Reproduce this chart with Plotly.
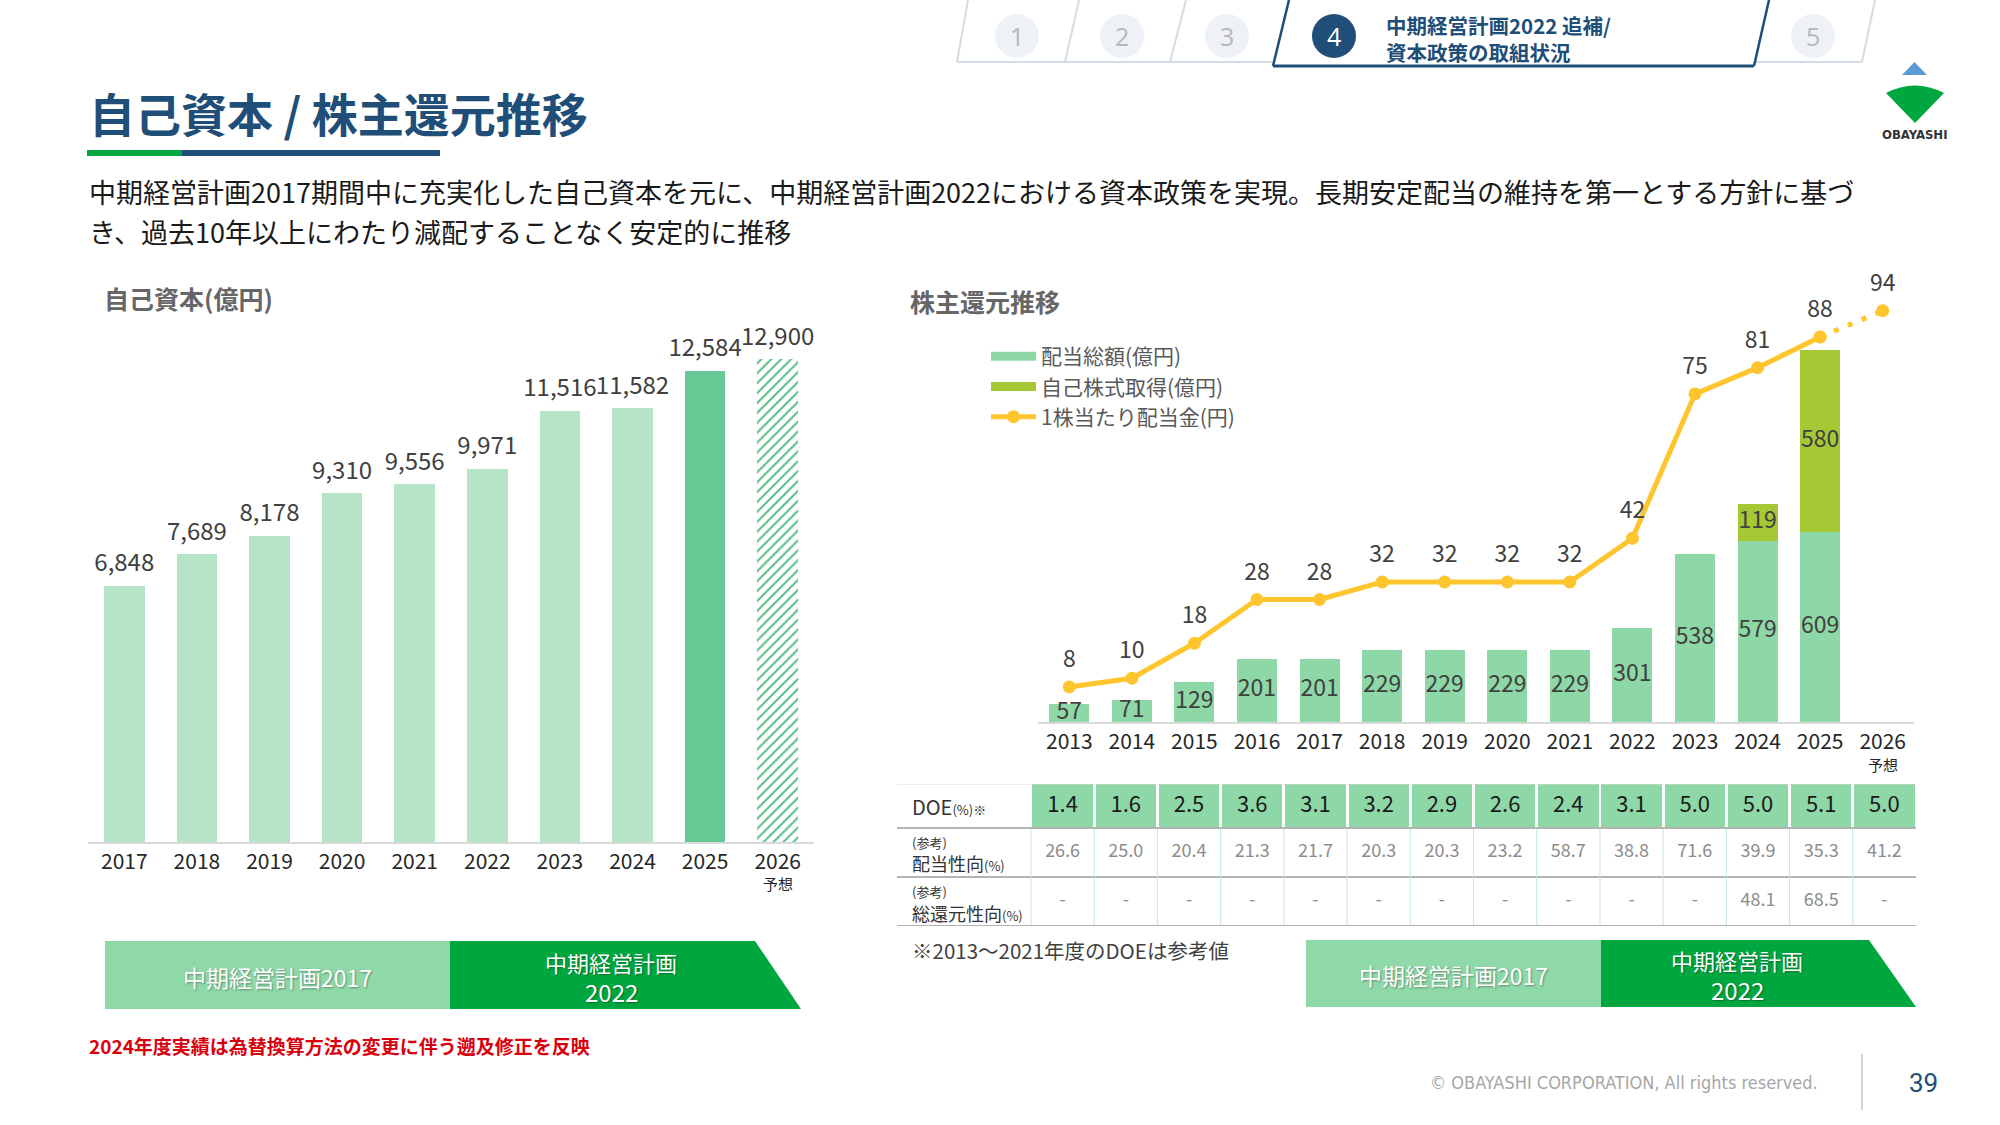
import plotly.graph_objects as go

W, H = 2000, 1125


def px(x):
    return x / W


def py(y):
    return 1 - y / H


FONT = "Noto Sans CJK JP, Noto Sans, sans-serif"
BLUE = "#1f4e79"

# ---------------- data ----------------
equity_years = [2017, 2018, 2019, 2020, 2021, 2022, 2023, 2024, 2025, 2026]
equity_values = [6848, 7689, 8178, 9310, 9556, 9971, 11516, 11582, 12584, 12900]
equity_latest_year = 2025
forecast_year = 2026

sr_years = [2013, 2014, 2015, 2016, 2017, 2018, 2019, 2020, 2021, 2022, 2023, 2024, 2025, 2026]
dividends = [57, 71, 129, 201, 201, 229, 229, 229, 229, 301, 538, 579, 609, None]
buybacks = [None, None, None, None, None, None, None, None, None, None, None, 119, 580, None]
dps = [8, 10, 18, 28, 28, 32, 32, 32, 32, 42, 75, 81, 88, 94]
doe = [1.4, 1.6, 2.5, 3.6, 3.1, 3.2, 2.9, 2.6, 2.4, 3.1, 5.0, 5.0, 5.1, 5.0]
payout = [26.6, 25.0, 20.4, 21.3, 21.7, 20.3, 20.3, 23.2, 58.7, 38.8, 71.6, 39.9, 35.3, 41.2]
total_return = [None, None, None, None, None, None, None, None, None, None, None, 48.1, 68.5, None]

# ---------------- styles ----------------
C_LIGHT = "#b5e5c6"
C_LATEST = "#66c995"
C_HATCH = "#5cc08a"
C_DIV = "#8ed8a7"
C_BUY = "#a6c834"
C_LINE = "#fec52e"
C_TEXT = "#404040"

fig = go.Figure()

# ---------------- left: equity ----------------
eq_colors = [C_LATEST if y == equity_latest_year else (C_HATCH if y == forecast_year else C_LIGHT)
             for y in equity_years]
eq_shapes = ["/" if y == forecast_year else "" for y in equity_years]
fig.add_trace(go.Bar(
    x=equity_years, y=equity_values, width=0.56, xaxis="x", yaxis="y",
    marker=dict(color=eq_colors, line=dict(width=0),
                pattern=dict(shape=eq_shapes, fillmode="replace", fgcolor=C_HATCH,
                             bgcolor="white", size=7, solidity=0.3)),
    showlegend=False, hoverinfo="skip"))
fig.add_trace(go.Scatter(
    x=equity_years, y=equity_values, xaxis="x", yaxis="y", mode="markers+text",
    marker=dict(size=12, color="rgba(0,0,0,0)"),
    text=[f"{v:,}" for v in equity_values], textposition="top center",
    textfont=dict(size=24, color=C_TEXT), cliponaxis=False,
    showlegend=False, hoverinfo="skip"))

# ---------------- right: shareholder returns ----------------
fig.add_trace(go.Bar(
    x=sr_years, y=dividends, width=0.64, xaxis="x2", yaxis="y2",
    marker=dict(color=C_DIV, line=dict(width=0)), showlegend=False, hoverinfo="skip"))
fig.add_trace(go.Bar(
    x=sr_years, y=buybacks, width=0.64, xaxis="x2", yaxis="y2",
    marker=dict(color=C_BUY, line=dict(width=0)), showlegend=False, hoverinfo="skip"))

# bar value labels (centred in segments)
div_x = [y for y, v in zip(sr_years, dividends) if v is not None]
div_v = [v for v in dividends if v is not None]
fig.add_trace(go.Scatter(
    x=div_x, y=[v / 2 for v in div_v], xaxis="x2", yaxis="y2", mode="text",
    text=[str(v) for v in div_v], textposition="middle center",
    textfont=dict(size=23, color=C_TEXT), cliponaxis=False,
    showlegend=False, hoverinfo="skip"))
bb_x = [y for y, b in zip(sr_years, buybacks) if b is not None]
bb_mid = [d + b / 2 for d, b in zip(dividends, buybacks) if b is not None]
bb_v = [b for b in buybacks if b is not None]
fig.add_trace(go.Scatter(
    x=bb_x, y=bb_mid, xaxis="x2", yaxis="y2", mode="text",
    text=[str(v) for v in bb_v], textposition="middle center",
    textfont=dict(size=23, color=C_TEXT), cliponaxis=False,
    showlegend=False, hoverinfo="skip"))

# legend dummies
fig.add_trace(go.Scatter(x=[None], y=[None], xaxis="x2", yaxis="y2", mode="lines",
                         line=dict(color=C_DIV, width=9), name="配当総額(億円)", legendrank=1))
fig.add_trace(go.Scatter(x=[None], y=[None], xaxis="x2", yaxis="y2", mode="lines",
                         line=dict(color=C_BUY, width=9), name="自己株式取得(億円)", legendrank=2))

act_idx = [i for i, y in enumerate(sr_years) if y != forecast_year]
fc_idx = [act_idx[-1]] + [i for i, y in enumerate(sr_years) if y == forecast_year]
fig.add_trace(go.Scatter(
    x=[sr_years[i] for i in fc_idx], y=[dps[i] for i in fc_idx], xaxis="x2", yaxis="y3",
    mode="lines+markers", line=dict(color=C_LINE, width=5, dash="5px,10px"),
    marker=dict(size=13, color=C_LINE), showlegend=False, hoverinfo="skip", cliponaxis=False))
fig.add_trace(go.Scatter(
    x=[sr_years[i] for i in act_idx], y=[dps[i] for i in act_idx], xaxis="x2", yaxis="y3",
    mode="lines+markers", line=dict(color=C_LINE, width=5),
    marker=dict(size=13, color=C_LINE), name="1株当たり配当金(円)", legendrank=3,
    hoverinfo="skip", cliponaxis=False))
fig.add_trace(go.Scatter(
    x=sr_years, y=dps, xaxis="x2", yaxis="y3", mode="markers+text",
    marker=dict(size=21, color="rgba(0,0,0,0)"),
    text=[str(v) for v in dps], textposition="top center",
    textfont=dict(size=23, color=C_TEXT), cliponaxis=False,
    showlegend=False, hoverinfo="skip"))

# ---------------- table ----------------
ROW_EDGES = [0, 44, 93, 142]
fig.add_trace(go.Bar(
    x=sr_years, y=[ROW_EDGES[1]] * len(sr_years), base=0, width=0.955,
    xaxis="x5", yaxis="y5", marker=dict(color=C_DIV, line=dict(width=0)),
    showlegend=False, hoverinfo="skip"))
fig.add_trace(go.Scatter(
    x=sr_years, y=[(ROW_EDGES[0] + ROW_EDGES[1]) / 2] * len(sr_years), xaxis="x5", yaxis="y5",
    mode="text", text=[f"{v:.1f}" for v in doe], textposition="middle center",
    textfont=dict(size=22, color="#1a1a1a"), showlegend=False, hoverinfo="skip", cliponaxis=False))
fig.add_trace(go.Scatter(
    x=sr_years, y=[(ROW_EDGES[1] + ROW_EDGES[2]) / 2] * len(sr_years), xaxis="x5", yaxis="y5",
    mode="text", text=[f"{v:.1f}" for v in payout], textposition="middle center",
    textfont=dict(size=18, color="#8c8c8c"), showlegend=False, hoverinfo="skip", cliponaxis=False))
fig.add_trace(go.Scatter(
    x=sr_years, y=[(ROW_EDGES[2] + ROW_EDGES[3]) / 2] * len(sr_years), xaxis="x5", yaxis="y5",
    mode="text", text=["-" if v is None else f"{v:.1f}" for v in total_return],
    textposition="middle center",
    textfont=dict(size=18, color="#8c8c8c"), showlegend=False, hoverinfo="skip", cliponaxis=False))

shapes = []
annos = []


def line(x0, y0, x1, y1, color, width):
    shapes.append(dict(type="line", xref="paper", yref="paper", x0=px(x0), y0=py(y0),
                       x1=px(x1), y1=py(y1), line=dict(color=color, width=width), layer="below"))


def poly(pts, color):
    d = "M" + " L".join(f"{px(x)},{py(y)}" for x, y in pts) + " Z"
    shapes.append(dict(type="path", xref="paper", yref="paper", path=d,
                       fillcolor=color, line=dict(width=0), layer="below"))


def text(x, y, s, size, color, anchor="left", weight="normal", family=FONT, shadow=None):
    f = dict(size=size, color=color, family=family, weight=weight)
    if shadow:
        f["shadow"] = shadow
    annos.append(dict(xref="paper", yref="paper", x=px(x), y=py(y), text=s, showarrow=False,
                      xanchor=anchor, yanchor="middle", font=f, align=anchor))


# table lines
for k, e in enumerate(ROW_EDGES):
    shapes.append(dict(type="line", xref="paper", yref="y5", x0=px(897), x1=px(1916), y0=e, y1=e,
                       line=dict(color="#d9d9d9" if k == 0 else "#b3b3b3", width=1 if k == 0 else 2)))
for yv in sr_years:
    shapes.append(dict(type="line", xref="x5", yref="y5", x0=yv - 0.5, x1=yv - 0.5,
                       y0=ROW_EDGES[1] + 1, y1=ROW_EDGES[3] - 1,
                       line=dict(color="#c4ead1", width=1)))


def row_label(yv, s, size):
    annos.append(dict(xref="paper", yref="y5", x=px(910), y=yv, text=s, showarrow=False,
                      xanchor="left", yanchor="middle",
                      font=dict(size=size, color="#333333", family=FONT)))


row_label((ROW_EDGES[0] + ROW_EDGES[1]) / 2, "DOE<span style='font-size:13px'>(%)※</span>", 20)
row_label(58, "(参考)", 13)
row_label(79, "配当性向<span style='font-size:13px'>(%)</span>", 18)
row_label(107, "(参考)", 13)
row_label(129, "総還元性向<span style='font-size:13px'>(%)</span>", 18)

# 予想 under forecast ticks
annos.append(dict(xref="x", yref="paper", x=forecast_year, y=py(883), text="予想", showarrow=False,
                  yanchor="middle", font=dict(size=15, color="#262626", family=FONT)))
annos.append(dict(xref="x2", yref="paper", x=forecast_year, y=py(764), text="予想", showarrow=False,
                  yanchor="middle", font=dict(size=15, color="#262626", family=FONT)))

# ---------------- page decorations ----------------
# nav tabs
GR = "#d3dbe5"
line(957, 62, 968, 0, GR, 2)
line(1065, 62, 1079, 0, GR, 2)
line(1170, 62, 1186, 0, GR, 2)
line(957, 62, 1273, 62, GR, 2)
line(1754, 62, 1862, 62, GR, 2)
line(1862, 62, 1875, 0, GR, 2)
line(1273, 66, 1289, 0, BLUE, 2.5)
line(1273, 66, 1754, 66, BLUE, 3)
line(1754, 66, 1769, 0, BLUE, 2.5)
for cx, num, act in [(1017, "1", False), (1122, "2", False), (1227, "3", False),
                     (1334, "4", True), (1813, "5", False)]:
    shapes.append(dict(type="circle", xref="paper", yref="paper", x0=px(cx - 22), x1=px(cx + 22),
                       y0=py(36 + 22), y1=py(36 - 22), fillcolor=BLUE if act else "#eef1f5",
                       line=dict(width=0), layer="below"))
    text(cx, 36, num, 25, "white" if act else "#b8b8b8", anchor="center",
         family="Open Sans, Roboto, sans-serif")
text(1384, 38, "中期経営計画2022 追補/<br>資本政策の取組状況", 20.5, BLUE, weight="bold")

# logo
poly([(1902, 75), (1914.5, 62), (1927, 75)], "#5b9bd5")
shapes.append(dict(type="path", xref="paper", yref="paper",
                   path=f"M{px(1886)},{py(93)} Q{px(1915)},{py(78)} {px(1944)},{py(93)} "
                        f"L{px(1915)},{py(123)} Z",
                   fillcolor="#00a73f", line=dict(width=0), layer="below"))
text(1914.5, 134, "OBAYASHI", 13, "#333333", anchor="center", weight="bold",
     family="Liberation Sans Narrow, DejaVu Sans Condensed, sans-serif")

# title
text(87, 112, "自己資本 / 株主還元推移", 46, BLUE, weight="bold")
shapes.append(dict(type="rect", xref="paper", yref="paper", x0=px(87), x1=px(182), y0=py(156), y1=py(150),
                   fillcolor="#00a73f", line=dict(width=0), layer="below"))
shapes.append(dict(type="rect", xref="paper", yref="paper", x0=px(182), x1=px(440), y0=py(156), y1=py(150),
                   fillcolor=BLUE, line=dict(width=0), layer="below"))
text(87, 191, "中期経営計画2017期間中に充実化した自己資本を元に、中期経営計画2022における資本政策を実現。"
              "長期安定配当の維持を第一とする方針に基づ", 27, "#1a1a1a")
text(87, 231, "き、過去10年以上にわたり減配することなく安定的に推移", 27, "#1a1a1a")

# chart titles
text(102, 298, "自己資本(億円)", 25, "#666666", weight="bold")
text(908, 301, "株主還元推移", 25, "#666666", weight="bold")

# banners
SH = "1px 1px 2px rgba(0,0,0,0.35)"
poly([(105, 941), (450, 941), (450, 1009), (105, 1009)], "#8fd8a8")
poly([(450, 941), (755, 941), (801, 1009), (450, 1009)], "#00a73f")
text(277, 977, "中期経営計画2017", 23, "white", anchor="center", shadow=SH)
text(611, 962, "中期経営計画", 22, "white", anchor="center", shadow=SH)
text(611, 991, "2022", 24, "white", anchor="center", shadow=SH)
poly([(1306, 940), (1601, 940), (1601, 1007), (1306, 1007)], "#8fd8a8")
poly([(1601, 940), (1869, 940), (1916, 1007), (1601, 1007)], "#00a73f")
text(1453, 975, "中期経営計画2017", 23, "white", anchor="center", shadow=SH)
text(1737, 960, "中期経営計画", 22, "white", anchor="center", shadow=SH)
text(1737, 989, "2022", 24, "white", anchor="center", shadow=SH)

# notes
text(87, 1045, "2024年度実績は為替換算方法の変更に伴う遡及修正を反映", 19, "#d9000d", weight="bold")
text(910, 950, "※2013～2021年度のDOEは参考値", 20.5, "#404040")

# footer
text(1820, 1082, "© OBAYASHI CORPORATION, All rights reserved.", 18, "#a6a6a6", anchor="right",
     family="Liberation Sans Narrow, DejaVu Sans Condensed, sans-serif")
line(1862, 1054, 1862, 1110, "#c8c8c8", 1.5)
text(1923, 1083, "39", 26, BLUE, anchor="center", family="Roboto, sans-serif")

# ---------------- layout ----------------
L_BASE, L_TOP = 842, 300
L_SCALE = 0.03744
R_BASE, R_TOP = 722, 250
R_SCALE_BAR = 0.3125
R_SCALE_LINE = 4.375

tickfont = dict(size=21, color="#262626", family=FONT)
fig.update_layout(
    width=W, height=H, margin=dict(l=0, r=0, t=0, b=0),
    paper_bgcolor="white", plot_bgcolor="rgba(0,0,0,0)",
    font=dict(family=FONT), barmode="stack", hovermode=False,
    xaxis=dict(domain=[px(88), px(814)], range=[2016.5, 2026.5], anchor="y",
               tickvals=equity_years, ticktext=[str(y) for y in equity_years],
               showline=True, linecolor="#d9d9d9", linewidth=2, showgrid=False, zeroline=False,
               ticks="", tickfont=tickfont, fixedrange=True),
    yaxis=dict(domain=[py(L_BASE), py(L_TOP)], range=[0, (L_BASE - L_TOP) / L_SCALE],
               visible=False, anchor="x", fixedrange=True),
    xaxis2=dict(domain=[px(1038), px(1914)], range=[2012.5, 2026.5], anchor="y2",
                tickvals=sr_years, ticktext=[str(y) for y in sr_years],
                showline=True, linecolor="#d9d9d9", linewidth=2, showgrid=False, zeroline=False,
                ticks="", tickfont=tickfont, fixedrange=True),
    yaxis2=dict(domain=[py(R_BASE), py(R_TOP)], range=[0, (R_BASE - R_TOP) / R_SCALE_BAR],
                visible=False, anchor="x2", fixedrange=True),
    yaxis3=dict(overlaying="y2", range=[0, (R_BASE - R_TOP) / R_SCALE_LINE],
                visible=False, anchor="x2", fixedrange=True),
    xaxis5=dict(domain=[px(897), px(1916)], range=[2010.38, 2026.5], anchor="y5", visible=False,
                fixedrange=True),
    yaxis5=dict(domain=[py(926), py(784)], range=[ROW_EDGES[-1], ROW_EDGES[0]], anchor="x5",
                visible=False, fixedrange=True),
    legend=dict(x=px(986), y=py(336), xanchor="left", yanchor="top", bgcolor="rgba(0,0,0,0)",
                font=dict(size=21, color="#595959", family=FONT), traceorder="normal",
                tracegroupgap=0, itemwidth=45),
    shapes=shapes, annotations=annos,
)

fig.write_html("out.html")
